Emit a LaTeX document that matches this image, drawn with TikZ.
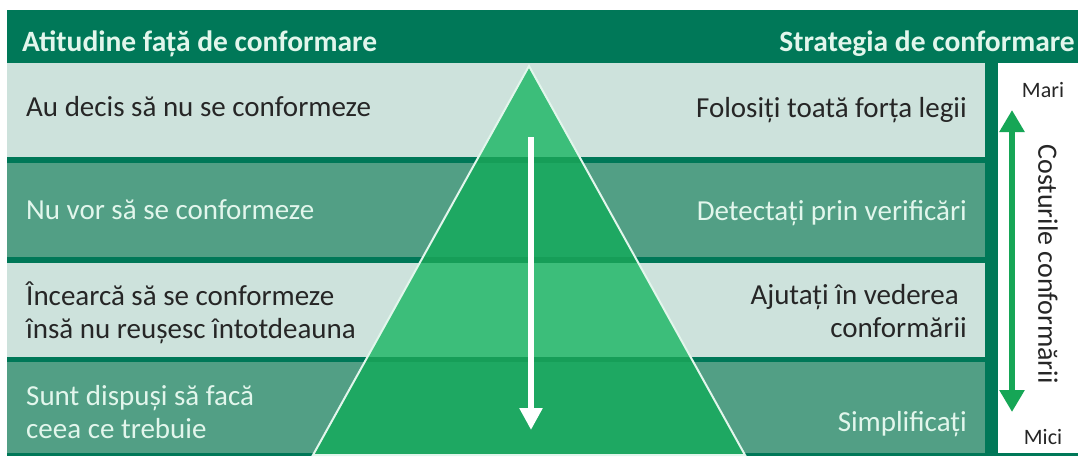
\documentclass[tikz,border=0pt]{standalone}
\usepackage{fontspec}
\setmainfont{Carlito}
\usetikzlibrary{arrows.meta}

\definecolor{headgreen}{RGB}{0,120,88}
\definecolor{rowlight}{RGB}{205,226,220}
\definecolor{rowmid}{RGB}{82,159,133}
\definecolor{pyrlight}{RGB}{60,190,122}
\definecolor{pyrdark}{RGB}{30,168,98}
\definecolor{pyrgap}{RGB}{22,158,88}
\definecolor{arrowgreen}{RGB}{22,166,86}
\definecolor{mint}{RGB}{226,246,236}
\definecolor{ink}{RGB}{38,38,38}

\tikzset{
  headtext/.style={inner sep=0pt, text=mint, font=\fontsize{29.5}{34}\selectfont\bfseries},
  lefttext/.style={anchor=west, inner sep=0pt, align=left, font=\fontsize{29}{33}\selectfont},
  righttext/.style={anchor=east, inner sep=0pt, align=right, font=\fontsize{29}{33}\selectfont},
  scaletext/.style={inner sep=0pt, text=ink, font=\fontsize{22}{26}\selectfont},
}

\begin{document}
\begin{tikzpicture}[x=1pt, y=-1pt]
    \useasboundingbox (0,0) rectangle (1078,456);

    % 背景 (濃い緑) と見出し
    \fill[headgreen] (7,10) rectangle (1078,456);
    \node[headtext, anchor=base west] (H1) at (22,51) {Atitudine față de conformare};
    \node[headtext, anchor=base east] (H2) at (1075,51) {Strategia de conformare};

    % 4 段の帯
    \fill[rowlight] (7,63) rectangle (985,157);
    \fill[rowmid] (7,163) rectangle (985,257);
    \fill[rowlight] (7,263) rectangle (985,357);
    \fill[rowmid] (7,362) rectangle (985,453);

    % 右側の白い枠
    \fill[white] (998,63) rectangle (1078,453);

    % ピラミッドの頂点
    \coordinate (A) at (529,66);
    \coordinate (B) at (313,455);
    \coordinate (C) at (745,455);

    % 段ごとに塗り分け (三角形でクリップ)
    \begin{scope}
        \clip (A) -- (B) -- (C) -- cycle;
        \fill[pyrlight] (300,60) rectangle (760,160);
        \fill[pyrdark] (300,160) rectangle (760,260);
        \fill[pyrlight] (300,260) rectangle (760,360);
        \fill[pyrdark] (300,360) rectangle (760,456);
        \fill[pyrgap] (300,157) rectangle (760,163);
        \fill[pyrgap] (300,257) rectangle (760,263);
        \fill[pyrgap] (300,357) rectangle (760,362);
    \end{scope}

    % 辺を描画
    \draw[mint, line width=2pt] (A) -- (B) -- (C) -- cycle;

    % 白い下向き矢印
    \coordinate (P) at (531,137);
    \coordinate (Q) at (531,430);
    \draw[white, line width=6pt, -{Triangle[width=22pt,length=22pt]}] (P) -- (Q);

    % 左の文
    \node[lefttext, text=ink] (L1) at (26,107) {Au decis să nu se conformeze};
    \node[lefttext, text=mint] (L2) at (26,210) {Nu vor să se conformeze};
    \node[lefttext, text=ink] (L3) at (26,313) {Încearcă să se conformeze\\însă nu reușesc întotdeauna};
    \node[lefttext, text=mint] (L4) at (26,412) {Sunt dispuși să facă\\ceea ce trebuie};

    % 右の文
    \node[righttext, text=ink] (R1) at (967,110) {Folosiți toată forța legii};
    \node[righttext, text=mint] (R2) at (967,213) {Detectați prin verificări};
    \node[righttext, text=ink] (R3) at (967,311) {Ajutați în vederea\kern8pt\\conformării};
    \node[righttext, text=mint] (R4) at (967,424) {Simplificați};

    % 費用の目盛り (両矢印)
    \node[scaletext] (M1) at (1043,90) {Mari};
    \node[scaletext] (M2) at (1043,437) {Mici};
    \coordinate (S) at (1012,110);
    \coordinate (T) at (1012,412);
    \draw[arrowgreen, line width=6pt, {Triangle[width=24pt,length=22pt]}-{Triangle[width=24pt,length=22pt]}] (T) -- (S);
    \node[scaletext, rotate=-90, font=\fontsize{28}{32}\selectfont] (K) at (1048,264) {Costurile conformării};
\end{tikzpicture}
\end{document}
